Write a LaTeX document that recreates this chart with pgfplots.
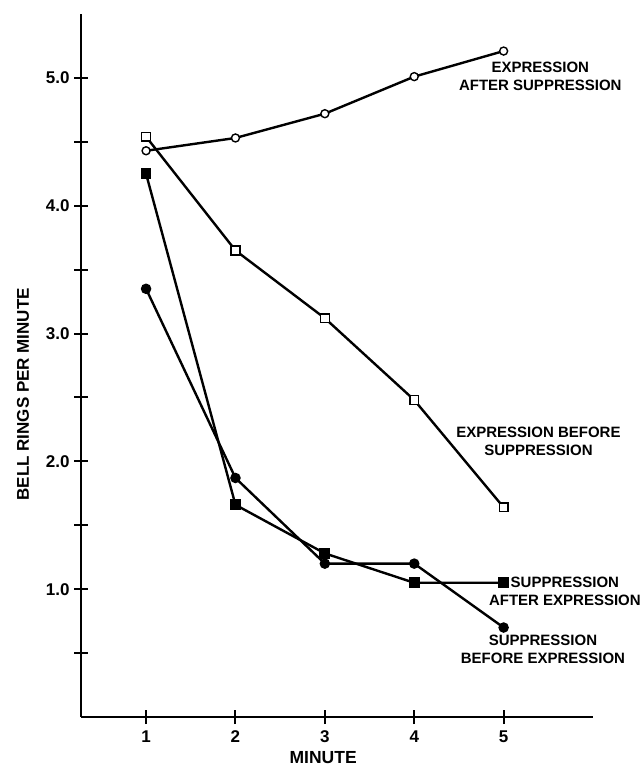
\documentclass[border=0pt]{standalone}
\usepackage{pgfplots}
\pgfplotsset{compat=1.18}
\usepackage{fontspec}
\setmainfont{Liberation Sans}
\begin{document}
\begin{tikzpicture}
\useasboundingbox (0pt,0pt) rectangle (642pt,767pt);
\begin{axis}[
  at={(81pt,50pt)}, anchor=south west,
  scale only axis, width=512pt, height=703pt,
  xmin=0.272, xmax=6.0, ymin=0, ymax=5.5,
  axis x line=bottom, axis y line=left,
  axis line style={-, line width=2pt},
  xtick={1,2,3,4,5},
  ytick={1,2,3,4,5},
  minor ytick={0.5,1.5,2.5,3.5,4.5},
  tick align=center,
  major tick length=14pt, minor tick length=14pt,
  every tick/.style={black, line width=2pt},
  minor tick style={black, line width=2pt},
  major tick style={black, line width=2pt},
  /pgf/number format/assume math mode=true,
  yticklabel style={xshift=-1pt, /pgf/number format/fixed, /pgf/number format/fixed zerofill, /pgf/number format/precision=1},
  ticklabel style={font=\fontsize{17}{19}\selectfont\bfseries},
  xticklabel style={yshift=-3pt},
  xlabel={MINUTE}, ylabel={BELL RINGS PER MINUTE},
  xlabel style={font=\fontsize{17.5}{19}\selectfont\bfseries, at={(rel axis cs:0.473,-0.058)}, anchor=center},
  ylabel style={font=\fontsize{17}{19}\selectfont\bfseries, at={(rel axis cs:-0.113,0.459)}, anchor=center, rotate=0},
  clip=false,
]
% Expression after suppression (open circle)
\addplot[black, line width=2.4pt, mark=*, mark size=4pt, mark options={fill=white, line width=1.4pt}]
  coordinates {(1,4.43) (2,4.53) (3,4.72) (4,5.01) (5,5.21)};
% Expression before suppression (open square)
\addplot[black, line width=2.4pt, mark=square*, mark size=4.4pt, mark options={fill=white, line width=1.4pt}]
  coordinates {(1,4.54) (2,3.65) (3,3.12) (4,2.48) (5,1.64)};
% Suppression after expression (filled square)
\addplot[black, line width=2.4pt, mark=square*, mark size=4.2pt, mark options={fill=black}]
  coordinates {(1,4.25) (2,1.66) (3,1.28) (4,1.05) (5,1.05)};
% Suppression before expression (filled circle)
\addplot[black, line width=2.4pt, mark=*, mark size=4pt, mark options={fill=black}]
  coordinates {(1,3.35) (2,1.87) (3,1.20) (4,1.20) (5,0.70)};
\begin{scope}[every node/.style={font=\fontsize{15}{18}\selectfont\bfseries, align=center, inner sep=0pt}]
\node at (axis cs:5.41,5.01) {EXPRESSION\\AFTER SUPPRESSION};
\node at (axis cs:5.39,2.16) {EXPRESSION BEFORE\\SUPPRESSION};
\node at (axis cs:5.685,0.98) {SUPPRESSION\\AFTER EXPRESSION};
\node at (axis cs:5.44,0.53) {SUPPRESSION\\BEFORE EXPRESSION};
\end{scope}
\end{axis}
\end{tikzpicture}
\end{document}
